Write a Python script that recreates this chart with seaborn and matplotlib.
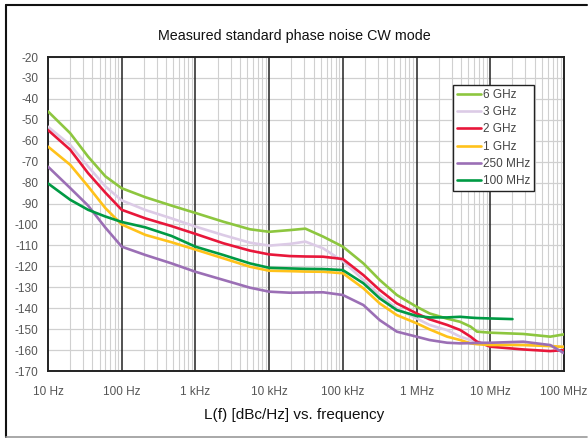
import numpy as np
import pandas as pd
import seaborn as sns
import matplotlib.pyplot as plt
from matplotlib.ticker import LogLocator, NullFormatter
from matplotlib.lines import Line2D

# offset frequencies (Hz)
freq = [10, 20, 35, 60, 100, 210, 475, 1e3, 2.4e3, 5.5e3, 1e4, 1.9e4, 3.1e4, 5.4e4,
        1e5, 1.9e5, 3.16e5, 5.4e5, 1e6, 1.5e6, 2.6e6, 3.9e6, 5.4e6, 6.6e6, 1e7, 2.8e7, 6.5e7, 1e8]
freq_100mhz = freq[:25] + [2e7]

ghz6 = [-46, -56.4, -67.6, -77, -82.7, -87, -91, -94.5, -98.7, -102.3, -103.5, -102.7, -102, -105.8,
        -110.6, -118.6, -126.5, -133.7, -139.3, -142.5, -145, -146.5, -148.8, -151.2, -151.7, -152.3, -153.6, -152.5]
ghz3 = [-53.3, -62, -72.3, -81.8, -88.5, -93.1, -97.1, -101, -105.1, -108.7, -110.1, -109.3, -108.2, -111.4,
        -117.5, -126.5, -133.7, -140.1, -144.9, -148, -150.5, -153.6, -155.2, -156, -157, -157.5, -158, -158.5]
ghz2 = [-54.9, -64.3, -75.5, -84.8, -93, -97.1, -100.8, -104.5, -109, -112.5, -114.3, -115.1, -115.3, -115.4,
        -116.5, -124.2, -131.3, -137.7, -142.5, -145.3, -148, -150.4, -153.6, -156, -158.4, -159.7, -160.5, -160]
ghz1 = [-62.8, -71.5, -81.8, -92.2, -100, -105, -108.5, -112, -116.2, -120.2, -122.1, -122.3, -122.5, -122.6,
        -123.3, -130.5, -137.7, -143.3, -147.2, -150.1, -153.6, -155.2, -156.8, -157.2, -157.6, -157.6, -158.1, -158.5]
mhz250 = [-72.4, -82.6, -91, -101.5, -110.6, -114.6, -118.6, -122.6, -126.5, -130.2, -132.1, -132.6, -132.5, -132.4,
          -133.7, -138.5, -145.7, -151.2, -153.6, -155.2, -156.5, -156.8, -156.7, -156.6, -156.5, -156, -157.6, -161.5]
mhz100 = [-80.4, -88.2, -93, -96.2, -98.8, -101.4, -105.5, -110.6, -114.6, -118.6, -120.7, -121, -121.2, -121.3,
          -121.8, -128.1, -135.3, -140.9, -143.7, -144.4, -144.4, -144.1, -144.5, -144.7, -144.9, -145.2]

labels = ["6 GHz", "3 GHz", "2 GHz", "1 GHz", "250 MHz", "100 MHz"]
colors = ["#8dc63f", "#dccbe6", "#e8173a", "#ffc21a", "#9b6fb5", "#009a44"]
yticks = list(range(-20, -171, -10))
xticks = [10, 100, 1e3, 1e4, 1e5, 1e6, 1e7, 1e8]
xticklabels = ["10 Hz", "100 Hz", "1 kHz", "10 kHz", "100 kHz", "1 MHz", "10 MHz", "100 MHz"]

series = [ghz6, ghz3, ghz2, ghz1, mhz250, mhz100]
frames = []
for name, vals in zip(labels, series):
    f = freq_100mhz if name == "100 MHz" else freq
    frames.append(pd.DataFrame({"freq": f, "dbc": vals, "carrier": name}))
df = pd.concat(frames, ignore_index=True)

sns.set_theme(style="white")
plt.rcParams["font.family"] = ["Liberation Sans", "DejaVu Sans"]

fig = plt.figure(figsize=(5.88, 4.38), dpi=100)
ax = fig.add_axes([48 / 588, 1 - 371 / 438, 516 / 588, 314 / 438])

# grid first so curves sit on top
ax.set_xscale("log")
ax.set_xlim(10, 1e8)
ax.set_ylim(-170, -20)
ax.xaxis.set_minor_locator(LogLocator(base=10, subs=np.arange(2, 10), numticks=20))
ax.xaxis.set_minor_formatter(NullFormatter())
ax.grid(which="minor", axis="x", color="#d0d0d0", lw=0.8)
ax.grid(which="major", axis="y", color="#d0d0d0", lw=0.9)
for xv in xticks[1:-1]:
    ax.axvline(xv, color="#222222", lw=1.1, zorder=1)
ax.set_axisbelow(True)

# 100 MHz comes last so it sits on top, as in the source
sns.lineplot(data=df, x="freq", y="dbc", hue="carrier", palette=dict(zip(labels, colors)),
             lw=1.9, ax=ax, legend=False, sort=False, zorder=3)
ax.set_xscale("log")
ax.set_xlim(10, 1e8)
ax.set_ylim(-170, -20)

ax.set_xticks(xticks)
ax.set_xticklabels(xticklabels)
ax.set_yticks(yticks)
ax.set_yticklabels([str(v) for v in yticks])
ax.tick_params(axis="both", which="major", labelsize=8.5, labelcolor="#555555", color="#222222",
               direction="out")
ax.tick_params(axis="y", length=5, width=1, pad=2)
ax.tick_params(axis="x", length=4, width=1, pad=7)
ax.tick_params(axis="x", which="minor", length=0)
ax.set_xlabel("")
ax.set_ylabel("")
for s in ax.spines.values():
    s.set_color("#222222")
    s.set_linewidth(1.4)

handles = [Line2D([0], [0], color=c, lw=1.9) for c in colors]
leg = ax.legend(handles, labels, loc="upper left", bbox_to_anchor=(0.785, 0.912), fontsize=8.5,
                frameon=True, fancybox=False, framealpha=1, edgecolor="#222222", handlelength=2.0,
                handletextpad=0.15, labelspacing=0.45, borderpad=0.35, borderaxespad=0)
leg.get_frame().set_linewidth(1.0)
for t in leg.get_texts():
    t.set_color("#444444")

fig.text(0.5, 1 - 36 / 438, "Measured standard phase noise CW mode", ha="center", va="center",
         fontsize=10.3, color="#111111")
fig.text(0.5, 1 - 415 / 438, "L(f) [dBc/Hz] vs. frequency", ha="center", va="center",
         fontsize=11, color="#111111")

# outer frame of the figure
fig.add_artist(Line2D([6 / 588, 6 / 588], [1 - 437 / 438, 1 - 5 / 438], color="#111111", lw=1.5))
fig.add_artist(Line2D([6 / 588, 587 / 588], [1 - 5 / 438, 1 - 5 / 438], color="#111111", lw=1.5))
fig.add_artist(Line2D([6 / 588, 587 / 588], [1 - 436.5 / 438, 1 - 436.5 / 438], color="#999999", lw=1.2))

fig.savefig("out.png", dpi=100)
